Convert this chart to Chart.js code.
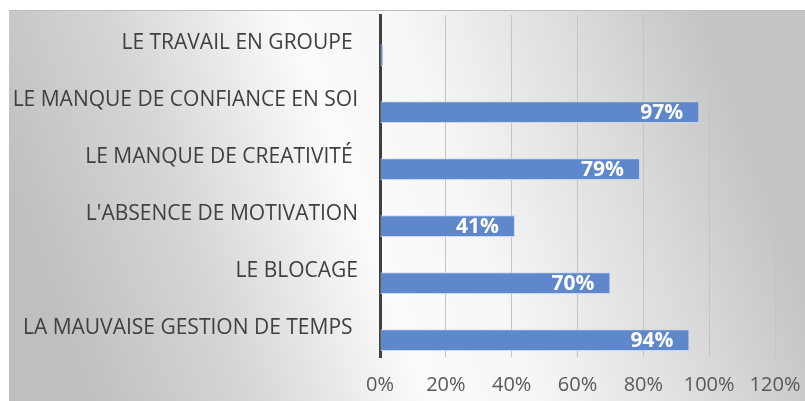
<!DOCTYPE html>
<html>
<head>
<meta charset="utf-8">
<script src="https://cdn.jsdelivr.net/npm/chart.js@4/dist/chart.umd.min.js"></script>
<style>
html,body{margin:0;padding:0;background:#fff;}
#wrap{width:805px;height:401px;position:relative;}
</style>
</head>
<body>
<div id="wrap"><canvas id="c" width="805" height="401"></canvas></div>
<script>
const categories = [
  "LE TRAVAIL EN GROUPE ",
  "LE MANQUE DE CONFIANCE EN SOI",
  "LE MANQUE DE CREATIVITÉ ",
  "L'ABSENCE DE MOTIVATION",
  "LE BLOCAGE",
  "LA MAUVAISE GESTION DE TEMPS "
];
const values = [1, 97, 79, 41, 70, 94];
const tickValues = [0, 20, 40, 60, 80, 100, 120];

const bgPlugin = {
  id: 'bg',
  beforeDraw(chart) {
    const ctx = chart.ctx;
    ctx.save();
    ctx.fillStyle = '#ffffff';
    ctx.fillRect(0, 0, chart.width, chart.height);
    ctx.beginPath();
    ctx.rect(9, 10, chart.width - 9, chart.height - 10);
    ctx.clip();
    const k = 0.36;
    ctx.setTransform(1, 0, k, 1, 0, 0);
    const g = ctx.createLinearGradient(-60, 0, 700, 0);
    g.addColorStop(0, '#bfbfbf');
    g.addColorStop(0.22, '#d6d6d6');
    g.addColorStop(0.45, '#fbfbfb');
    g.addColorStop(0.6, '#f6f6f6');
    g.addColorStop(0.82, '#dcdcdc');
    g.addColorStop(1, '#c4c4c4');
    ctx.fillStyle = g;
    ctx.fillRect(-1000, -10, 3000, 500);
    ctx.restore();
    ctx.save();
    ctx.strokeStyle = '#bdbdbd';
    ctx.lineWidth = 1;
    ctx.beginPath();
    ctx.moveTo(9, 10.5);
    ctx.lineTo(chart.width, 10.5);
    ctx.stroke();
    ctx.restore();
  }
};

const labelPlugin = {
  id: 'vals',
  afterDatasetsDraw(chart) {
    const ctx = chart.ctx;
    const meta = chart.getDatasetMeta(1);
    ctx.save();
    ctx.font = 'bold 21px "Open Sans"';
    ctx.fillStyle = '#ffffff';
    ctx.textAlign = 'right';
    ctx.textBaseline = 'middle';
    meta.data.forEach((el, i) => {
      const v = values[i];
      if (v < 5) return;
      ctx.fillText(v + '%', el.x - 16, el.y + 1);
    });
    ctx.restore();
  }
};

new Chart(document.getElementById('c'), {
  type: 'bar',
  data: {
    labels: categories,
    datasets: [
      { label: 'pad', data: categories.map(() => null), backgroundColor: 'rgba(0,0,0,0)' },
      {
        label: 'Série 1',
        data: values,
        backgroundColor: '#5f87cc',
        borderColor: 'rgba(200,214,240,0.9)',
        borderWidth: 1,
        borderSkipped: false
      }
    ]
  },
  options: {
    indexAxis: 'y',
    responsive: false,
    animation: false,
    devicePixelRatio: 1,
    layout: { padding: { top: 15, right: 30, left: 0, bottom: 0 } },
    datasets: { bar: { categoryPercentage: 0.81, barPercentage: 0.94 } },
    plugins: { legend: { display: false }, tooltip: { enabled: false }, title: { display: false } },
    scales: {
      x: {
        min: 0, max: 120,
        afterBuildTicks(scale) { scale.ticks = tickValues.map(v => ({ value: v })); },
        afterFit(scale) { scale.height = 44; scale.paddingLeft = 0; scale.paddingRight = 0; },
        grid: { color: '#c4c4c4', lineWidth: 1, drawTicks: false },
        border: { display: false },
        ticks: {
          padding: 16,
          color: '#595959',
          font: { family: '"Open Sans"', size: 20 },
          callback: v => v + '%'
        }
      },
      y: {
        afterFit(scale) { scale.width = 380; scale.paddingTop = 0; scale.paddingBottom = 0; },
        grid: { display: false, drawTicks: false },
        border: { display: true, color: '#404040', width: 3 },
        ticks: {
          padding: 22,
          color: '#404040',
          font: { family: '"Open Sans"', size: 21 }
        }
      }
    }
  },
  plugins: [bgPlugin, labelPlugin]
});
</script>
</body>
</html>
